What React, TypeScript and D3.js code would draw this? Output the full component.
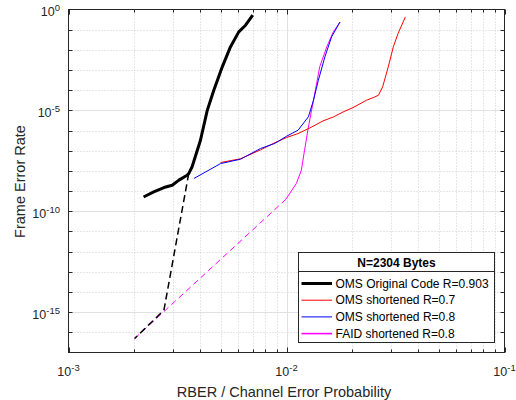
import React, { useEffect, useRef } from "react";
import * as d3 from "d3";

// OMS original code R=0.903 (simulated part)
const omsOrigRber = [2.21e-3, 2.46e-3, 2.74e-3, 2.99e-3, 3.21e-3, 3.5e-3, 3.56e-3, 3.69e-3, 4.03e-3, 4.33e-3, 4.64e-3, 5.07e-3, 5.53e-3, 6.04e-3, 6.49e-3, 7.0e-3];
const omsOrigFer = [5.1e-10, 9.1e-10, 1.5e-9, 1.95e-9, 3.5e-9, 6.1e-9, 7.4e-9, 1.6e-8, 3.3e-7, 1.0e-5, 1.0e-4, 1.4e-3, 1.4e-2, 7.8e-2, 0.166, 0.52];
// OMS original code, extrapolated (dashed)
const omsOrigExtRber = [3.56e-3, 2.74e-3, 2.01e-3];
const omsOrigExtFer = [7.4e-9, 1.26e-15, 4.9e-17];

// OMS shortened R=0.7
const oms07Rber = [4.98e-3, 6.15e-3, 7.6e-3, 8.7e-3, 1.0e-2, 1.13e-2, 1.28e-2, 1.47e-2, 1.64e-2, 1.82e-2, 2.02e-2, 2.33e-2, 2.5e-2, 2.64e-2, 2.76e-2, 2.93e-2, 3.09e-2, 3.25e-2, 3.51e-2];
const oms07Fer = [2.6e-8, 4.0e-8, 1.1e-7, 2.3e-7, 4.5e-7, 7.1e-7, 1.35e-6, 3.0e-6, 4.7e-6, 8.4e-6, 1.38e-5, 3.2e-5, 4.3e-5, 5.6e-5, 1.46e-4, 1.43e-3, 1.4e-2, 6.5e-2, 0.43];

// OMS shortened R=0.8
const oms08Rber = [3.76e-3, 4.98e-3, 6.15e-3, 7.6e-3, 8.84e-3, 1.0e-2, 1.13e-2, 1.26e-2, 1.33e-2, 1.4e-2, 1.5e-2, 1.61e-2, 1.76e-2];
const oms08Fer = [4.2e-9, 2.3e-8, 3.8e-8, 1.29e-7, 2.3e-7, 5.2e-7, 1.04e-6, 4.8e-6, 3.2e-5, 3.1e-4, 4.5e-3, 4.4e-2, 0.24];

// FAID shortened R=0.8
const faidRber = [9.93e-3, 1.11e-2, 1.17e-2, 1.21e-2, 1.26e-2, 1.33e-2, 1.42e-2, 1.53e-2, 1.64e-2, 1.76e-2];
const faidFer = [3.9e-10, 2.4e-9, 1.08e-8, 1.07e-7, 1.5e-6, 3.2e-5, 1.43e-3, 1.4e-2, 7.8e-2, 0.24];
// FAID extrapolated (dashed)
const faidExtRber = [2.01e-3, 9.93e-3];
const faidExtFer = [4.9e-17, 3.9e-10];

const xTicks = [1e-3, 1e-2, 1e-1];
const xTickExp = ["-3", "-2", "-1"];
const yTicks = [1e0, 1e-5, 1e-10, 1e-15];
const yTickExp = ["0", "-5", "-10", "-15"];

const legendTitle = "N=2304 Bytes";
const legendLabels = ["OMS Original Code R=0.903", "OMS shortened R=0.7", "OMS shortened R=0.8", "FAID shortened R=0.8"];
const legendColors = ["#000000", "#ff0000", "#0000ff", "#ff00ff"];
const legendWidths = [3, 1, 1, 1.6];

const zip = (xs: number[], ys: number[]) => xs.map((x, i) => [x, ys[i]] as [number, number]);

export default function App() {
  const svgRef = useRef<SVGSVGElement>(null);

  useEffect(() => {
    const svg = d3.select(svgRef.current);
    svg.selectAll("*").remove();
    const font = "'Liberation Sans', Arial, Helvetica, sans-serif";
    const axisColor = "#262626";

    const left = 68.5, right = 504.5, top = 9.5, bottom = 352.5;
    const x = d3.scaleLog().domain([1e-3, 1e-1]).range([left, right]);
    const y = d3.scaleLog().domain([1e-17, 1]).range([bottom, top]);

    svg.append("rect").attr("x", left).attr("y", top)
      .attr("width", right - left).attr("height", bottom - top).attr("fill", "#fff");

    // grid
    const grid = svg.append("g");
    const xMinor: number[] = [];
    [1e-3, 1e-2].forEach((d) => { for (let k = 2; k <= 9; k++) xMinor.push(k * d); });
    xMinor.forEach((v) => {
      grid.append("line").attr("x1", Math.round(x(v)) + 0.5).attr("x2", Math.round(x(v)) + 0.5)
        .attr("y1", top).attr("y2", bottom)
        .attr("stroke", "#cfcfcf").attr("stroke-dasharray", "1,2");
    });
    const yDecades = d3.range(-16, 0).map((e) => Math.pow(10, e));
    yDecades.forEach((v, i) => {
      const e = -16 + i;
      const major = e % 5 === 0;
      const yy = Math.round(y(v)) + 0.5;
      grid.append("line").attr("x1", left).attr("x2", right).attr("y1", yy).attr("y2", yy)
        .attr("stroke", major ? "#e0e0e0" : "#cfcfcf")
        .attr("stroke-dasharray", major ? null : "1,2");
    });
    grid.append("line").attr("x1", Math.round(x(1e-2)) + 0.5).attr("x2", Math.round(x(1e-2)) + 0.5)
      .attr("y1", top).attr("y2", bottom).attr("stroke", "#e0e0e0");

    // data lines
    const line = d3.line<[number, number]>().x((d) => x(d[0])).y((d) => y(d[1]));
    const plot = svg.append("g");
    plot.append("path").attr("d", line(zip(faidExtRber, faidExtFer))).attr("fill", "none")
      .attr("stroke", "#ff00ff").attr("stroke-width", 1).attr("stroke-dasharray", "6,4");
    plot.append("path").attr("d", line(zip(omsOrigExtRber, omsOrigExtFer))).attr("fill", "none")
      .attr("stroke", "#000").attr("stroke-width", 1.5).attr("stroke-dasharray", "7,4");
    plot.append("path").attr("d", line(zip(faidRber, faidFer))).attr("fill", "none")
      .attr("stroke", "#ff00ff").attr("stroke-width", 1);
    plot.append("path").attr("d", line(zip(oms07Rber, oms07Fer))).attr("fill", "none")
      .attr("stroke", "#ff0000").attr("stroke-width", 1);
    plot.append("path").attr("d", line(zip(oms08Rber, oms08Fer))).attr("fill", "none")
      .attr("stroke", "#0000ff").attr("stroke-width", 1);
    plot.append("path").attr("d", line(zip(omsOrigRber, omsOrigFer))).attr("fill", "none")
      .attr("stroke", "#000").attr("stroke-width", 3).attr("stroke-linejoin", "round");

    // axes box + ticks
    const ax = svg.append("g").attr("stroke", axisColor).attr("fill", "none");
    ax.append("rect").attr("x", left).attr("y", top).attr("width", right - left).attr("height", bottom - top);
    xTicks.forEach((v) => {
      const xx = Math.round(x(v)) + 0.5;
      ax.append("line").attr("x1", xx).attr("x2", xx).attr("y1", bottom).attr("y2", bottom - 5);
      ax.append("line").attr("x1", xx).attr("x2", xx).attr("y1", top).attr("y2", top + 5);
    });
    xMinor.forEach((v) => {
      const xx = Math.round(x(v)) + 0.5;
      ax.append("line").attr("x1", xx).attr("x2", xx).attr("y1", bottom).attr("y2", bottom - 3);
      ax.append("line").attr("x1", xx).attr("x2", xx).attr("y1", top).attr("y2", top + 3);
    });
    yDecades.forEach((v) => {
      const yy = Math.round(y(v)) + 0.5;
      ax.append("line").attr("x1", left).attr("x2", left + 4).attr("y1", yy).attr("y2", yy);
      ax.append("line").attr("x1", right).attr("x2", right - 4).attr("y1", yy).attr("y2", yy);
    });

    // tick labels
    xTicks.forEach((v, i) => {
      const t = svg.append("text").attr("x", x(v)).attr("y", 375.5).attr("text-anchor", "middle")
        .attr("font-family", font).attr("font-size", 12.5).attr("fill", axisColor);
      t.append("tspan").text("10");
      t.append("tspan").attr("dy", -5).attr("font-size", 9.5).text(xTickExp[i]);
    });
    yTicks.forEach((v, i) => {
      const t = svg.append("text").attr("x", 60).attr("y", y(v) + 6.5).attr("text-anchor", "end")
        .attr("font-family", font).attr("font-size", 12.5).attr("fill", axisColor);
      t.append("tspan").text("10");
      t.append("tspan").attr("dy", -5).attr("font-size", 9.5).text(yTickExp[i]);
    });

    // axis labels
    svg.append("text").attr("x", 284).attr("y", 396.5).attr("text-anchor", "middle")
      .attr("font-family", font).attr("font-size", 14.5).attr("fill", axisColor)
      .text("RBER / Channel Error Probability");
    svg.append("text").attr("transform", `translate(25, 181.5) rotate(-90)`)
      .attr("text-anchor", "middle").attr("font-family", font).attr("font-size", 14.5).attr("fill", axisColor)
      .text("Frame Error Rate");

    // legend
    const lg = svg.append("g").attr("transform", "translate(298.5, 252.5)");
    lg.append("rect").attr("width", 196).attr("height", 90).attr("fill", "#fff").attr("stroke", axisColor);
    lg.append("line").attr("x1", 0).attr("x2", 196).attr("y1", 19).attr("y2", 19).attr("stroke", axisColor);
    lg.append("text").attr("x", 98).attr("y", 14).attr("text-anchor", "middle")
      .attr("font-family", font).attr("font-size", 12).attr("font-weight", "bold").attr("fill", "#000")
      .text(legendTitle);
    legendLabels.forEach((lab, i) => {
      const yy = 31 + i * 16.7;
      lg.append("line").attr("x1", 3).attr("x2", 33.5).attr("y1", yy).attr("y2", yy)
        .attr("stroke", legendColors[i]).attr("stroke-width", legendWidths[i]);
      lg.append("text").attr("x", 37).attr("y", yy + 4.2).attr("font-family", font).attr("font-size", 12)
        .attr("fill", "#000").text(lab);
    });
  }, []);

  return (
    <div>
      <svg ref={svgRef} width={516} height={400} style={{ position: "absolute", left: 0, top: 0, background: "#fff" }}></svg>
    </div>
  );
}
